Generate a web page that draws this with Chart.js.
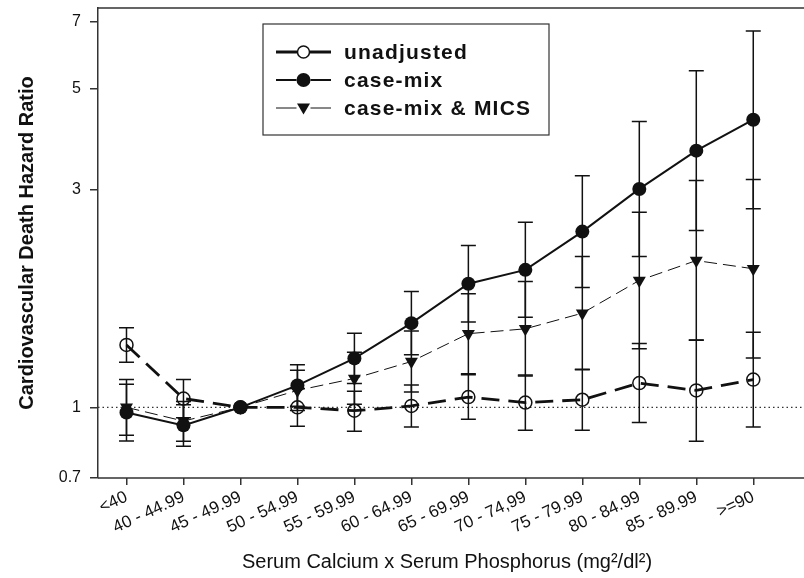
<!DOCTYPE html>
<html>
<head>
  <title>Cardiovascular Death Hazard Ratio</title>
  <meta charset="utf-8" />
  <style>
    body { margin: 0; background: #fff; }
    #chart-box { width: 804px; height: 578px; }
  </style>
</head>
<body>
  <div id="chart-box"><canvas id="chart-canvas" width="804" height="578"></canvas></div>

  <script src="https://cdn.jsdelivr.net/npm/chart.js"></script>
  <script>
    // categories and tick values
    const categories = ['<40', '40 - 44.99', '45 - 49.99', '50 - 54.99', '55 - 59.99', '60 - 64.99',
      '65 - 69.99', '70 - 74,99', '75 - 79.99', '80 - 84.99', '85 - 89.99', '>=90'];
    const yTicks = [0.7, 1, 3, 5, 7];

    // hazard ratios + 95% CI per series
    const unadjusted   = [1.37, 1.045, 1.0, 1.0, 0.983, 1.007, 1.053, 1.024, 1.039, 1.13, 1.089, 1.15];
    const unadjustedLo = [1.256, 0.949, 1.0, 0.909, 0.886, 0.906, 0.941, 0.891, 0.891, 0.926, 0.843, 0.906];
    const unadjustedHi = [1.494, 1.151, 1.0, 1.10, 1.084, 1.119, 1.178, 1.177, 1.212, 1.38, 1.405, 1.46];

    const caseMix   = [0.974, 0.913, 1.0, 1.117, 1.28, 1.529, 1.865, 2.001, 2.427, 3.01, 3.651, 4.268];
    const caseMixLo = [0.844, 0.822, 1.0, 1.006, 1.127, 1.303, 1.538, 1.575, 1.83, 2.141, 2.44, 2.725];
    const caseMixHi = [1.124, 1.013, 1.0, 1.24, 1.454, 1.794, 2.262, 2.544, 3.219, 4.232, 5.464, 6.68];

    const mics   = [1.0, 0.933, 1.0, 1.089, 1.157, 1.26, 1.45, 1.486, 1.608, 1.897, 2.097, 2.012];
    const micsLo = [0.869, 0.843, 1.0, 0.984, 1.015, 1.08, 1.185, 1.171, 1.208, 1.344, 1.402, 1.283];
    const micsHi = [1.151, 1.03, 1.0, 1.205, 1.32, 1.47, 1.774, 1.887, 2.14, 2.676, 3.139, 3.155];

    const FONT = "'Liberation Sans', Arial, sans-serif";
    const INK = '#111';

    function toPoints(arr) {
      return arr.map((v, i) => ({x: i, y: v}));
    }

    // error bars, dotted reference line at 1, frame lines, legend box
    const extras = {
      id: 'extras',
      beforeDatasetsDraw(chart) {
        const ctx = chart.ctx;
        const xs = chart.scales.x, ys = chart.scales.y;
        const area = chart.chartArea;

        ctx.save();
        ctx.strokeStyle = '#333';
        ctx.lineWidth = 1.2;
        ctx.setLineDash([1.5, 3]);
        const y1 = ys.getPixelForValue(1);
        ctx.beginPath();
        ctx.moveTo(area.left, y1);
        ctx.lineTo(chart.width, y1);
        ctx.stroke();
        ctx.restore();

        ctx.save();
        ctx.strokeStyle = INK;
        ctx.lineWidth = 1.5;
        chart.data.datasets.forEach(ds => {
          ds.lo.forEach((lo, i) => {
            const hi = ds.hi[i];
            if (lo === hi) return;
            const x = xs.getPixelForValue(i);
            const yl = ys.getPixelForValue(lo);
            const yh = ys.getPixelForValue(hi);
            ctx.beginPath();
            ctx.moveTo(x, yl); ctx.lineTo(x, yh);
            ctx.moveTo(x - 7.5, yl); ctx.lineTo(x + 7.5, yl);
            ctx.moveTo(x - 7.5, yh); ctx.lineTo(x + 7.5, yh);
            ctx.stroke();
          });
        });
        ctx.restore();
      },
      afterDraw(chart) {
        const ctx = chart.ctx;
        const area = chart.chartArea;
        ctx.save();
        ctx.strokeStyle = '#333';
        ctx.lineWidth = 1.5;
        ctx.beginPath();
        ctx.moveTo(area.left, area.top);
        ctx.lineTo(chart.width, area.top);
        ctx.moveTo(area.left, area.bottom);
        ctx.lineTo(chart.width, area.bottom);
        ctx.stroke();

        // legend
        ctx.lineWidth = 1.2;
        ctx.strokeRect(263, 24, 286, 111);
        chart.data.datasets.forEach((ds, k) => {
          const y = 52 + k * 28;
          const cx = 303.5, r = ds.legendR;
          ctx.strokeStyle = INK;
          ctx.fillStyle = INK;
          ctx.setLineDash([]);
          ctx.lineWidth = ds.borderWidth;
          ctx.beginPath();
          ctx.moveTo(276, y); ctx.lineTo(cx - r, y);
          ctx.moveTo(cx + r, y); ctx.lineTo(331, y);
          ctx.stroke();
          ctx.lineWidth = 1.5;
          ctx.beginPath();
          if (ds.pointStyle === 'triangle') {
            ctx.moveTo(cx - 6.5, y - 4.5);
            ctx.lineTo(cx + 6.5, y - 4.5);
            ctx.lineTo(cx, y + 6.5);
            ctx.closePath();
            ctx.fill();
          } else {
            ctx.arc(cx, y, r, 0, Math.PI * 2);
            if (ds.pointBackgroundColor === 'rgba(0,0,0,0)') ctx.stroke(); else ctx.fill();
          }
          ctx.font = 'bold 21px ' + FONT;
          ctx.letterSpacing = '1.2px';
          ctx.textBaseline = 'middle';
          ctx.textAlign = 'left';
          ctx.fillText(ds.label, 344, y + 1);
        });
        ctx.restore();
      }
    };

    const ctx = document.getElementById('chart-canvas').getContext('2d');
    new Chart(ctx, {
      type: 'line',
      data: {
        datasets: [
          {
            label: 'unadjusted',
            data: toPoints(unadjusted), lo: unadjustedLo, hi: unadjustedHi,
            borderColor: INK, borderWidth: 2.8, borderDash: [18, 9],
            pointStyle: 'circle', pointRadius: 6.5, pointBorderWidth: 1.5,
            pointBorderColor: INK, pointBackgroundColor: 'rgba(0,0,0,0)', legendR: 6
          },
          {
            label: 'case-mix',
            data: toPoints(caseMix), lo: caseMixLo, hi: caseMixHi,
            borderColor: INK, borderWidth: 2,
            pointStyle: 'circle', pointRadius: 7, pointBorderWidth: 0,
            pointBackgroundColor: INK, legendR: 7
          },
          {
            label: 'case-mix & MICS',
            data: toPoints(mics), lo: micsLo, hi: micsHi,
            borderColor: INK, borderWidth: 1, borderDash: [13, 6],
            pointStyle: 'triangle', rotation: 180, pointRadius: 7.5, pointBorderWidth: 0,
            pointBackgroundColor: INK, legendR: 7
          }
        ]
      },
      options: {
        responsive: false,
        devicePixelRatio: 1,
        animation: false,
        layout: { padding: { top: 7, left: 0, right: 0, bottom: 0 } },
        plugins: { legend: { display: false }, tooltip: { enabled: false } },
        elements: { line: { tension: 0 } },
        scales: {
          x: {
            type: 'linear',
            min: -0.5,
            max: 11.75,
            afterBuildTicks: s => { s.ticks = categories.map((c, i) => ({value: i})); },
            afterFit: s => { s.height = 100; },
            ticks: {
              callback: v => categories[v],
              autoSkip: false,
              maxRotation: 25, minRotation: 25,
              color: INK,
              padding: 2,
              font: { family: FONT, size: 17 }
            },
            grid: { drawOnChartArea: false, drawTicks: true, tickLength: 7, color: '#333', lineWidth: 1.5 },
            border: { display: false },
            title: {
              display: true,
              text: 'Serum Calcium x Serum Phosphorus (mg²/dl²)',
              color: INK,
              padding: { top: 0, bottom: 4 },
              font: { family: FONT, size: 20 }
            }
          },
          y: {
            type: 'logarithmic',
            min: 0.7,
            max: 7.5,
            afterBuildTicks: s => { s.ticks = yTicks.map(v => ({value: v})); },
            afterFit: s => { s.width = 98; s.paddingTop = 0; s.paddingBottom = 0; },
            ticks: {
              callback: v => String(v),
              color: INK,
              padding: 9,
              font: { family: FONT, size: 16 }
            },
            grid: { drawOnChartArea: false, drawTicks: true, tickLength: 8, color: '#333', lineWidth: 1.5 },
            border: { display: true, color: '#333', width: 1.5 },
            title: {
              display: true,
              text: 'Cardiovascular Death Hazard Ratio',
              color: INK,
              padding: { top: 15, bottom: 0 },
              font: { family: FONT, size: 20, weight: 'bold' }
            }
          }
        }
      },
      plugins: [extras]
    });
  </script>
</body>
</html>
